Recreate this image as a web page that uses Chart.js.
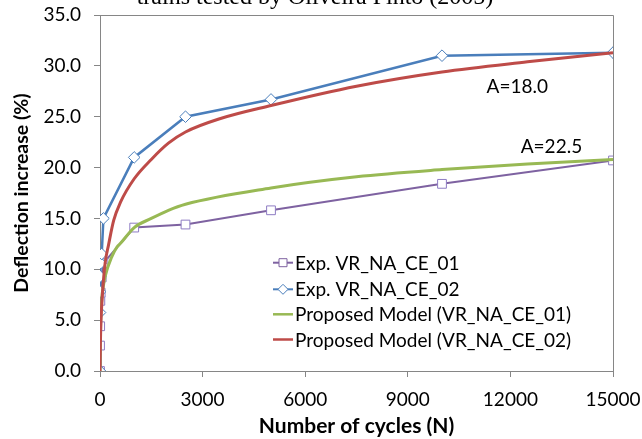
<!DOCTYPE html>
<html>
<head>
<meta charset="utf-8">
<script src="https://cdn.jsdelivr.net/npm/chart.js@4/dist/chart.umd.min.js"></script>
<style>
  html, body { margin: 0; padding: 0; background: #ffffff; }
  #wrap { position: relative; width: 642px; height: 439px; }
</style>
</head>
<body>
<div id="wrap"><canvas id="c" width="642" height="439"></canvas></div>
<script>
// ---- data ----
const expCycles = [0, 1, 5, 10, 20, 50, 100, 1000, 2500, 5000, 10000, 15000];
const exp01 = [0, 2.5, 4.4, 6.9, 7.7, 9.2, 10.6, 14.1, 14.4, 15.8, 18.4, 20.7];
const exp02 = [0, 5.75, 7.8, 9.3, 10.6, 11.5, 15.0, 21.0, 25.0, 26.7, 31.0, 31.3];

const model01Cycles = [0, 10, 50, 100, 150, 340, 500, 600, 1000, 1500, 2000, 2500, 5000, 7500, 10000, 12500, 15000];
const model01 = [0, 3.5, 7.0, 8.4, 9.3, 11.2, 12.2, 12.55, 14.1, 15.0, 15.8, 16.4, 18.0, 19.1, 19.8, 20.35, 20.8];

const model02Cycles = [0, 10, 30, 70, 150, 250, 400, 600, 1000, 1500, 2000, 2500, 3500, 5000, 7500, 10000, 12500, 15000];
const model02 = [0, 2.5, 5.0, 7.5, 10.6, 12.4, 14.8, 16.6, 18.9, 20.8, 22.4, 23.5, 24.8, 26.1, 28.0, 29.4, 30.4, 31.3];

const seriesNames = ['Exp. VR_NA_CE_01', 'Exp. VR_NA_CE_02', 'Proposed Model (VR_NA_CE_01)', 'Proposed Model (VR_NA_CE_02)'];
const annotations = [
  { text: 'A=18.0', x: 12200, y: 27.95 },
  { text: 'A=22.5', x: 13200, y: 22.05 }
];
const titleText = 'trains tested by Oliveira Pinto (2005)';
const xTicks = [0, 3000, 6000, 9000, 12000, 15000];
const yTicks = [0, 5, 10, 15, 20, 25, 30, 35];

// ---- styles ----
const C_PURPLE = '#7E62A1';
const C_BLUE = '#4A7EBB';
const C_GREEN = '#98B954';
const C_RED = '#BE4B48';
const AXIS = '#868686';
const FONT = 'Lato, "Open Sans", sans-serif';

const toXY = (xs, ys) => xs.map((x, i) => ({ x: x, y: ys[i] }));

const styles = [
  { color: C_PURPLE, width: 2, point: 'rect', r: 6.2 },
  { color: C_BLUE, width: 2.5, point: 'rectRot', r: 5.8 },
  { color: C_GREEN, width: 3, point: false },
  { color: C_RED, width: 3, point: false }
];

const overlay = {
  id: 'overlay',
  afterDraw(chart) {
    const ctx = chart.ctx;
    const a = chart.chartArea;
    const xs = chart.scales.x, ys = chart.scales.y;
    ctx.save();
    // plot border (top & right)
    ctx.strokeStyle = AXIS;
    ctx.lineWidth = 1;
    ctx.beginPath();
    ctx.moveTo(Math.round(a.left) + 0.5, Math.round(a.top) + 0.5);
    ctx.lineTo(Math.round(a.right) + 0.5, Math.round(a.top) + 0.5);
    ctx.lineTo(Math.round(a.right) + 0.5, Math.round(a.bottom) + 0.5);
    ctx.stroke();

    // clipped title at the top
    ctx.fillStyle = '#000';
    ctx.font = '24px "Liberation Serif", "DejaVu Serif", serif';
    ctx.textAlign = 'center';
    ctx.textBaseline = 'alphabetic';
    ctx.fillText(titleText, 315, 4);

    // annotations
    ctx.font = '19px ' + FONT;
    ctx.textBaseline = 'middle';
    annotations.forEach(an => {
      ctx.fillText(an.text, xs.getPixelForValue(an.x), ys.getPixelForValue(an.y));
    });

    // legend inside plot
    const rows = [262.7, 289.3, 314.3, 339.5];
    ctx.textAlign = 'left';
    seriesNames.forEach((name, i) => {
      const s = styles[i];
      const y = rows[i];
      ctx.strokeStyle = s.color;
      ctx.lineWidth = s.width > 2.5 ? 2.5 : 2;
      ctx.beginPath();
      ctx.moveTo(273, y);
      ctx.lineTo(293, y);
      ctx.stroke();
      if (s.point) {
        ctx.fillStyle = '#fff';
        ctx.lineWidth = 1;
        ctx.beginPath();
        if (s.point === 'rect') {
          ctx.rect(279, y - 4, 8, 8);
        } else {
          ctx.moveTo(283, y - 5); ctx.lineTo(288, y); ctx.lineTo(283, y + 5); ctx.lineTo(278, y); ctx.closePath();
        }
        ctx.fill();
        ctx.stroke();
      }
      ctx.fillStyle = '#000';
      ctx.fillText(name, 295, y + 1);
    });
    ctx.restore();
  }
};

const datasets = [
  { label: seriesNames[0], data: toXY(expCycles, exp01), order: 3 },
  { label: seriesNames[1], data: toXY(expCycles, exp02), order: 2 },
  { label: seriesNames[2], data: toXY(model01Cycles, model01), order: 1 },
  { label: seriesNames[3], data: toXY(model02Cycles, model02), order: 0 }
].map((d, i) => {
  const s = styles[i];
  return Object.assign(d, {
    borderColor: s.color,
    borderWidth: s.width,
    backgroundColor: '#ffffff',
    pointStyle: s.point || 'circle',
    pointRadius: s.point ? s.r : 0,
    pointBorderColor: s.point ? (i === 0 ? '#8E7CC3' : C_BLUE) : s.color,
    pointBackgroundColor: '#ffffff',
    pointBorderWidth: 1,
    tension: 0,
    cubicInterpolationMode: s.point ? 'default' : 'monotone',
    fill: false
  });
});
datasets[2].tension = 0.4;
datasets[3].tension = 0.4;

new Chart(document.getElementById('c'), {
  type: 'line',
  data: { datasets: datasets },
  options: {
    responsive: false,
    animation: false,
    devicePixelRatio: 1,
    layout: { padding: { left: 0, right: 29, top: 15, bottom: 0 } },
    plugins: { legend: { display: false }, tooltip: { enabled: false }, title: { display: false } },
    scales: {
      x: {
        type: 'linear',
        min: 0, max: 15000,
        afterBuildTicks: sc => { sc.ticks = xTicks.map(v => ({ value: v })); },
        afterFit: sc => { sc.height = 68; sc.paddingLeft = 0; sc.paddingRight = 0; },
        ticks: { color: '#000', font: { family: FONT, size: 19 }, padding: 11, maxRotation: 0, callback: v => String(v) },
        grid: { display: true, drawOnChartArea: false, drawTicks: true, tickLength: 6, color: AXIS },
        border: { color: AXIS, width: 1 },
        title: { display: true, text: 'Number of cycles (N)', color: '#000', font: { family: FONT, size: 21, weight: 'bold' }, padding: { top: 0, bottom: 0 } }
      },
      y: {
        type: 'linear',
        min: 0, max: 35,
        afterBuildTicks: sc => { sc.ticks = yTicks.map(v => ({ value: v })); },
        afterFit: sc => { sc.width = 100; sc.paddingTop = 0; sc.paddingBottom = 0; },
        ticks: { color: '#000', font: { family: FONT, size: 19 }, padding: 13, callback: v => Number(v).toFixed(1) },
        grid: { display: true, drawOnChartArea: false, drawTicks: true, tickLength: 6, color: AXIS },
        border: { color: AXIS, width: 1 },
        title: { display: true, text: 'Deflection increase (%)', color: '#000', font: { family: FONT, size: 19.5, weight: 'bold' }, padding: { top: 10, bottom: 0 } }
      }
    }
  },
  plugins: [overlay]
});
</script>
</body>
</html>
